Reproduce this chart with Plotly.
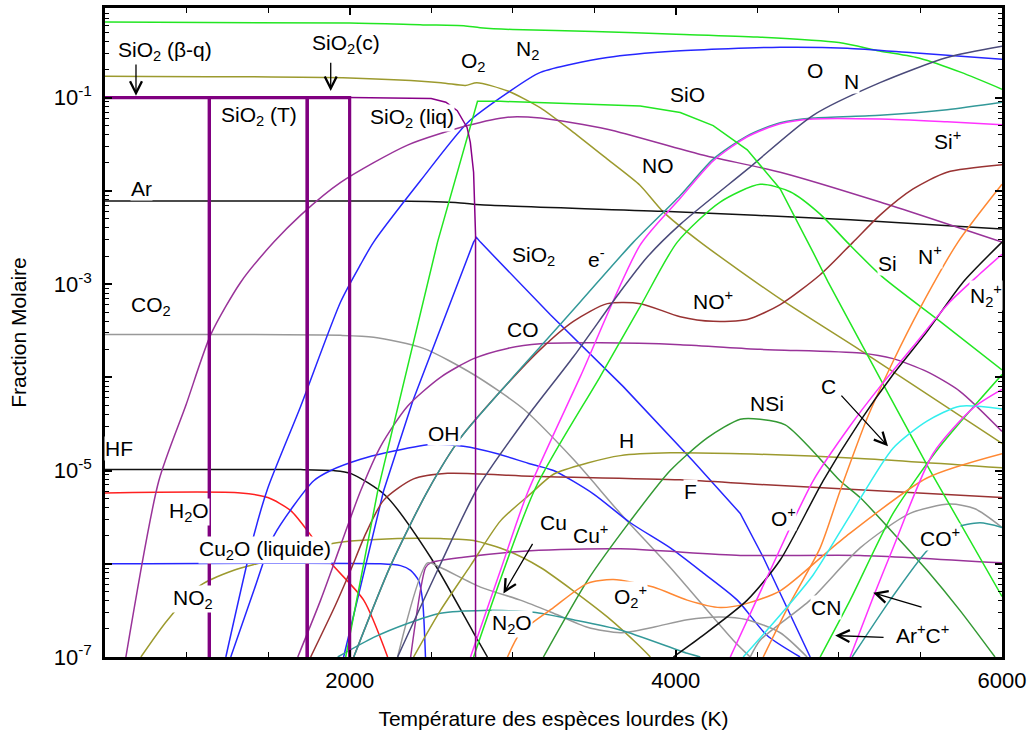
import numpy as np
import plotly.graph_objects as go

# ---- data: temperature (K) and log10(mole fraction) ----
T_N2 = [500, 2000, 2450, 2700, 2800, 3000, 3500, 4000, 4500, 5000, 5250, 5500, 5750, 6000]
N2 = [-0.19, -0.20, -0.22, -0.23, -0.25, -0.27, -0.29, -0.32, -0.35, -0.41, -0.50, -0.58, -0.73, -0.91]

T_O2 = [500, 2000, 2560, 2710, 2780, 2970, 3170, 3370, 3580, 3780, 3920, 4150, 4640, 5140, 6000]
O2 = [-0.77, -0.79, -0.84, -0.87, -0.84, -0.93, -1.11, -1.37, -1.66, -1.94, -2.22, -2.55, -3.16, -3.72, -4.71]

SiO2_phase_bounds = [500, 1140, 1740, 2000]   # beta-quartz / tridymite / cristobalite
SiO2_cond_level = -1.0

T_SiO2liq = [2000, 2500, 2590, 2660, 2720, 2740, 2760, 2772, 2772]
SiO2liq = [-1.0, -1.01, -1.05, -1.14, -1.32, -1.48, -1.80, -2.47, -7.3]

T_Ar = [500, 2310, 2680, 2800, 3920, 5070, 6000]
Ar = [-2.11, -2.11, -2.13, -2.15, -2.22, -2.31, -2.41]

T_O = [1241, 1412, 1498, 1700, 1945, 2067, 2147, 2435, 2723, 2968, 3170, 3580, 4003, 4640, 5050, 5455, 6000]
O = [-7.0, -5.70, -5.19, -4.31, -3.19, -2.79, -2.55, -1.89, -1.27, -0.95, -0.73, -0.57, -0.50, -0.46, -0.47, -0.52, -0.59]

T_OH = [1271, 1412, 1535, 1780, 1884, 2067, 2221, 2496, 2698, 2906, 3109, 3250, 3494, 3721, 3966, 4169, 4377, 4560, 4762]
OH = [-7.0, -6.29, -5.70, -5.11, -5.00, -4.88, -4.81, -4.72, -4.74, -4.82, -4.93, -5.00, -5.25, -5.56, -5.83, -6.10, -6.39, -6.77, -7.0]

T_SiO2g = [1963, 2208, 2386, 2557, 2760, 2778, 2802, 3231, 3678, 4107, 4395, 4536, 4701, 4824]
SiO2g = [-7.0, -5.22, -4.26, -3.47, -2.55, -2.50, -2.55, -3.33, -4.10, -4.90, -5.46, -5.93, -6.55, -7.0]

T_Cu2Oliq = [500, 2190, 2312, 2374, 2423, 2447, 2466]
Cu2Oliq = [-6.0, -6.0, -6.02, -6.07, -6.18, -6.39, -7.05]

T_H2O = [500, 1332, 1498, 1639, 1773, 1884, 2086, 2233]
H2O = [-5.24, -5.24, -5.29, -5.43, -5.72, -5.99, -6.39, -7.0]

T_HF = [500, 1700, 1902, 2006, 2221, 2496, 2760, 2845]
HF = [-4.99, -4.99, -5.00, -5.03, -5.27, -5.93, -6.74, -7.0]

T_CO2 = [500, 1945, 2147, 2453, 2760, 3066, 3372, 3660, 3966, 4352, 4456]
CO2 = [-3.54, -3.55, -3.57, -3.69, -3.97, -4.34, -4.88, -5.46, -6.04, -6.82, -7.0]

T_NO = [628, 830, 996, 1149, 1332, 1535, 1700, 1945, 2355, 2723, 2968, 3170, 3580, 4150, 4640, 5252, 6000]
NO = [-7.0, -5.11, -4.30, -3.54, -2.98, -2.55, -2.26, -1.91, -1.51, -1.30, -1.21, -1.22, -1.34, -1.61, -1.80, -2.12, -2.55]

T_CO = [1682, 1822, 1945, 2067, 2190, 2355, 2557, 2760, 2968, 3170, 3537, 4027, 4517, 5130, 5332, 5540, 5742, 6000]
CO = [-7.0, -6.39, -5.80, -5.22, -4.74, -4.31, -4.00, -3.80, -3.69, -3.64, -3.63, -3.65, -3.70, -3.74, -3.80, -3.94, -4.15, -4.58]

T_e = [2025, 2251, 2478, 2680, 2925, 3170, 3415, 3740, 4027, 4229, 4438, 4640, 4842, 5252, 5663, 6000]
e_minus = [-7.0, -6.02, -5.22, -4.65, -4.15, -3.67, -3.19, -2.55, -2.05, -1.66, -1.41, -1.27, -1.22, -1.19, -1.13, -1.05]

T_NOp = [2025, 2251, 2478, 2680, 2925, 3170, 3372, 3580, 3782, 4027, 4229, 4438, 4640, 4885, 5087, 5252, 5455, 5663, 6000]
NOp = [-7.0, -6.02, -5.22, -4.65, -4.15, -3.70, -3.40, -3.21, -3.21, -3.35, -3.40, -3.38, -3.22, -2.90, -2.55, -2.26, -1.98, -1.80, -1.72]

T_Sip = [2741, 2925, 3090, 3415, 3782, 4027, 4229, 4438, 4640, 4842, 5252, 5663, 6000]
Sip = [-7.0, -6.07, -5.24, -3.99, -2.58, -2.08, -1.68, -1.42, -1.28, -1.23, -1.23, -1.26, -1.29]

T_N = [2294, 2539, 2784, 3090, 3372, 3660, 3825, 4027, 4438, 4842, 5252, 5663, 6000]
N = [-7.0, -6.07, -5.19, -4.42, -3.78, -3.08, -2.71, -2.36, -1.77, -1.19, -0.84, -0.57, -0.45]

T_Si = [2760, 3139, 3537, 3782, 4009, 4272, 4517, 4701, 4885, 5050, 5265, 5620, 6000]
Si = [-7.0, -5.19, -3.99, -3.24, -2.55, -2.12, -1.93, -2.01, -2.25, -2.55, -2.92, -3.40, -3.92]

T_SiO = [1976, 2172, 2539, 2784, 2925, 3782, 4027, 4229, 4438, 4640, 4842, 4934, 5295, 5559, 6000]
SiO = [-7.0, -5.22, -2.55, -1.04, -1.04, -1.09, -1.16, -1.30, -1.56, -1.98, -2.66, -2.98, -4.15, -5.00, -6.35]

T_Arp = [4885, 5069, 5332, 5620, 6000]
Arp = [-7.0, -6.39, -5.46, -4.74, -3.97]

T_NSi = [3188, 3458, 3721, 3966, 4193, 4395, 4517, 4671, 4824, 5007, 5130, 5375, 5540, 5742, 5957]
NSi = [-7.0, -6.18, -5.54, -5.00, -4.65, -4.45, -4.45, -4.51, -4.76, -5.11, -5.29, -5.75, -6.07, -6.50, -7.0]

T_Op = [3985, 4150, 4438, 4640, 4903, 5130, 5332, 5540, 5761, 6000]
Op = [-7.0, -6.79, -6.39, -5.96, -5.11, -4.47, -3.97, -3.51, -2.98, -2.55]

T_N2p = [4334, 4579, 4842, 5069, 5252, 5455, 5681, 5865, 6000]
N2p = [-7.0, -6.07, -5.11, -4.52, -4.10, -3.67, -3.19, -2.89, -2.68]

T_C = [4413, 4640, 4842, 5069, 5332, 5540, 5742, 6000]
C = [-7.0, -6.55, -6.12, -5.48, -4.76, -4.47, -4.31, -4.34]

T_Np = [4536, 4701, 4885, 5007, 5173, 5332, 5497, 5730, 6000]
Np = [-7.0, -6.42, -5.83, -5.22, -4.44, -3.83, -3.26, -2.55, -1.93]

T_O2p = [2968, 3047, 3250, 3458, 3617, 3862, 4070, 4272, 4426, 4640, 5026, 5540, 6000]
O2p = [-7.0, -6.74, -6.47, -6.21, -6.17, -6.25, -6.39, -6.47, -6.43, -6.29, -5.73, -5.08, -4.82]

T_Cp = [5069, 5210, 5332, 5577, 5822, 6000]
Cp = [-7.0, -6.36, -5.83, -4.82, -4.33, -4.13]

T_COp = [5081, 5314, 5540, 5699, 5865, 6000]
COp = [-7.0, -6.39, -5.86, -5.62, -5.56, -5.61]

T_CN = [4456, 4517, 4824, 5130, 5436, 5681, 5834, 6000]
CN = [-7.0, -6.82, -6.39, -5.83, -5.46, -5.36, -5.41, -5.61]

T_Cu = [2294, 2478, 2557, 2802, 3047, 3250, 3458, 3660, 3862, 4070, 4272, 4438, 4640, 4805]
Cu = [-7.0, -5.99, -6.04, -6.25, -6.39, -6.53, -6.68, -6.74, -6.68, -6.60, -6.57, -6.60, -6.74, -7.0]

T_Cup = [2374, 2466, 2496, 2698, 3109, 3660, 4395, 5130, 6000]
Cup = [-7.0, -6.04, -5.99, -5.93, -5.86, -5.84, -5.91, -5.91, -5.99]

T_N2O = [1927, 2147, 2355, 2557, 2821, 3127, 3372, 3660, 4070, 4150]
N2O = [-7.0, -6.79, -6.64, -6.53, -6.50, -6.52, -6.60, -6.71, -6.96, -7.0]

T_H = [2392, 2557, 2741, 2925, 3109, 3250, 3458, 3660, 3966, 4395, 5130, 6000]
H = [-7.0, -6.50, -6.02, -5.54, -5.25, -5.04, -4.92, -4.84, -4.81, -4.82, -4.87, -4.97]

T_F = [1761, 1914, 2006, 2098, 2208, 2392, 2600, 3109, 4027, 4517, 6000]
F = [-7.0, -6.44, -6.07, -5.68, -5.32, -5.09, -5.03, -5.06, -5.10, -5.15, -5.29]

T_NO2 = [720, 885, 1087, 1290, 1455, 1902, 2294, 2557, 2760, 2968, 3170, 3372, 3580, 3782, 3844]
NO2 = [-7.0, -6.60, -6.23, -6.07, -5.99, -5.78, -5.73, -5.73, -5.75, -5.86, -6.04, -6.29, -6.57, -6.89, -7.0]

GREEN = "#22e622"
OLIVE = "#9c9a2e"
PURPLE = "#993399"
BLUE = "#2626ff"
MAROON = "#993333"
TEAL = "#339999"
MAGENTA = "#ff33ff"
SLATE = "#4a4a7a"
ORANGE = "#ff8833"
DKGREEN = "#339933"
CYAN = "#33eeee"
GRAY = "#999999"
RED = "#ff2020"
BLACK = "#111111"

series = [
    (T_N2, N2, GREEN, "spline"),
    (T_O2, O2, OLIVE, "spline"),
    (T_Ar, Ar, BLACK, "spline"),
    (T_NO2, NO2, OLIVE, "spline"),
    (T_H2O, H2O, RED, "spline"),
    (T_HF, HF, BLACK, "spline"),
    (T_CO2, CO2, GRAY, "spline"),
    (T_Cu2Oliq, Cu2Oliq, BLUE, "spline"),
    (T_O, O, BLUE, "spline"),
    (T_OH, OH, BLUE, "spline"),
    (T_SiO2g, SiO2g, BLUE, "linear"),
    (T_NO, NO, PURPLE, "spline"),
    (T_CO, CO, PURPLE, "spline"),
    (T_Cup, Cup, PURPLE, "spline"),
    (T_Cu, Cu, GRAY, "spline"),
    (T_CN, CN, GRAY, "spline"),
    (T_N2O, N2O, TEAL, "spline"),
    (T_H, H, OLIVE, "spline"),
    (T_F, F, MAROON, "spline"),
    (T_NOp, NOp, MAROON, "spline"),
    (T_e, e_minus, TEAL, "spline"),
    (T_Sip, Sip, MAGENTA, "spline"),
    (T_N, N, SLATE, "spline"),
    (T_SiO, SiO, GREEN, "linear"),
    (T_Si, Si, GREEN, "spline"),
    (T_Arp, Arp, GREEN, "spline"),
    (T_NSi, NSi, DKGREEN, "spline"),
    (T_O2p, O2p, ORANGE, "spline"),
    (T_Np, Np, ORANGE, "spline"),
    (T_C, C, CYAN, "spline"),
    (T_Op, Op, BLACK, "spline"),
    (T_N2p, N2p, MAGENTA, "spline"),
    (T_Cp, Cp, MAGENTA, "spline"),
    (T_COp, COp, TEAL, "spline"),
    (T_SiO2liq, SiO2liq, "#880088", "linear"),
]

fig = go.Figure()
for tx, ly, col, shp in series:
    fig.add_trace(go.Scatter(
        x=tx, y=10 ** np.array(ly, dtype=float), mode="lines",
        line=dict(color=col, width=1.5, shape=shp, smoothing=0.7 if shp == "spline" else None),
        showlegend=False, hoverinfo="skip"))

# condensed SiO2 phases (thick)
b = SiO2_phase_bounds
lvl = 10 ** SiO2_cond_level
low = 1e-8
cond_x = [b[0], b[1], b[1], None, b[1], b[1], b[2], b[2], None, b[2], b[2], b[3], b[3]]
cond_y = [lvl, lvl, low, None, low, lvl, lvl, low, None, low, lvl, lvl, low]
fig.add_trace(go.Scatter(x=cond_x, y=cond_y, mode="lines",
                         line=dict(color="#800080", width=3.2), showlegend=False,
                         hoverinfo="skip", connectgaps=False))

FONT = "Liberation Sans, Arial, sans-serif"
LSIZE = 21
labels = [
    ("SiO<sub>2</sub> (β-q)", 870, -0.50),
    ("SiO<sub>2</sub>(c)", 1975, -0.42),
    ("SiO<sub>2</sub> (T)", 1443, -1.20),
    ("SiO<sub>2</sub> (liq)", 2380, -1.22),
    ("O<sub>2</sub>", 2760, -0.62),
    ("N<sub>2</sub>", 3090, -0.49),
    ("SiO", 4070, -0.97),
    ("O", 4854, -0.71),
    ("N", 5075, -0.83),
    ("Si<sup>+</sup>", 5663, -1.46),
    ("Ar", 726, -1.97),
    ("NO", 3893, -1.73),
    ("SiO<sub>2</sub>", 3127, -2.70),
    ("e<sup>-</sup>", 3513, -2.72),
    ("NO<sup>+</sup>", 4230, -3.17),
    ("Si", 5295, -2.78),
    ("N<sup>+</sup>", 5559, -2.69),
    ("N<sub>2</sub><sup>+</sup>", 5900, -3.12),
    ("CO<sub>2</sub>", 781, -3.23),
    ("CO", 3066, -3.49),
    ("HF", 585, -4.76),
    ("C", 4934, -4.10),
    ("NSi", 4560, -4.28),
    ("OH", 2576, -4.60),
    ("H", 3697, -4.68),
    ("F", 4089, -5.23),
    ("H<sub>2</sub>O", 1014, -5.44),
    ("O<sup>+</sup>", 4658, -5.50),
    ("Cu<sub>2</sub>O (liquide)", 1479, -5.85),
    ("Cu", 3250, -5.56),
    ("Cu<sup>+</sup>", 3476, -5.68),
    ("CO<sup>+</sup>", 5620, -5.71),
    ("NO<sub>2</sub>", 1038, -6.38),
    ("N<sub>2</sub>O", 2998, -6.65),
    ("O<sub>2</sub><sup>+</sup>", 3721, -6.35),
    ("CN", 4922, -6.47),
    ("Ar<sup>+</sup>C<sup>+</sup>", 5510, -6.75),
]
for txt, tx, ly in labels:
    fig.add_annotation(x=tx, y=ly, xref="x", yref="y", text=txt, showarrow=False,
                       font=dict(family=FONT, size=LSIZE, color="black"),
                       bgcolor="white", borderpad=0)

# arrows: (tip T, tip log y, tail T, tail log y)
arrows = [
    (690, -0.98, 690, -0.63),
    (1884, -0.93, 1884, -0.61),
    (5301, -4.74, 5007, -4.18),
    (2943, -6.32, 3127, -5.77),
    (5210, -6.31, 5516, -6.47),
    (4977, -6.77, 5283, -6.79),
]
for tx, ty, axx, ayy in arrows:
    fig.add_annotation(x=tx, y=ty, ax=axx, ay=ayy, xref="x", yref="y", axref="x", ayref="y",
                       text="", showarrow=True, arrowhead=5, arrowsize=1.8, arrowwidth=1.3,
                       arrowcolor="black")

decades = [1e-7, 1e-6, 1e-5, 1e-4, 1e-3, 1e-2, 1e-1]
dec_text = ["10<sup>-7</sup>", "", "10<sup>-5</sup>", "", "10<sup>-3</sup>", "", "10<sup>-1</sup>"]
minor_vals = [k * 10.0 ** e for e in range(-7, 0) for k in range(2, 10)]

fig.update_layout(
    width=1031, height=740,
    margin=dict(l=105, r=29, t=5, b=83),
    paper_bgcolor="white", plot_bgcolor="white",
    font=dict(family=FONT, color="black"),
)
fig.update_xaxes(
    range=[500, 6000], tickvals=[2000, 4000, 6000], ticktext=["2000", "4000", "6000"],
    ticks="inside", ticklen=7, tickwidth=1.5, tickcolor="black",
    minor=dict(dtick=500, tick0=0, ticks="inside", ticklen=5, tickcolor="black", tickwidth=1.2),
    showline=True, linewidth=2.5, linecolor="black", mirror="allticks",
    showgrid=False, zeroline=False,
    tickfont=dict(family=FONT, size=22), ticklabelstandoff=2,
    title=dict(text="Température des espèces lourdes (K)", font=dict(family=FONT, size=21), standoff=20),
)
fig.update_yaxes(
    type="log", range=[-7, -0.039], tickvals=decades, ticktext=dec_text,
    ticks="inside", ticklen=7, tickwidth=1.5, tickcolor="black",
    minor=dict(tickvals=minor_vals, ticks="inside", ticklen=4, tickcolor="black", tickwidth=1),
    showline=True, linewidth=2.5, linecolor="black", mirror="allticks",
    showgrid=False, zeroline=False,
    tickfont=dict(family=FONT, size=22), ticklabelstandoff=6,
    title=dict(text="Fraction Molaire", font=dict(family=FONT, size=21), standoff=22),
)

# remove the page's default 8px body margin so the 1031x740 figure fills the window
fig.write_html("out.html",
               config={"displayModeBar": False},
               post_script="document.body.style.margin='0px';document.body.style.overflow='hidden';")
